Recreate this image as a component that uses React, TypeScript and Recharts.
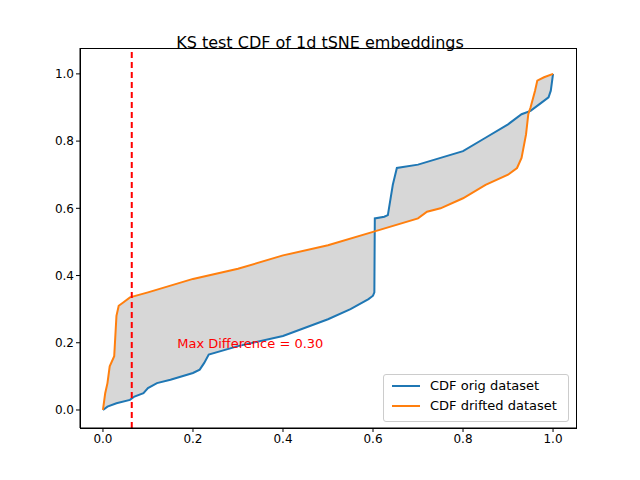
import { ComposedChart, Line, Area, XAxis, YAxis, ReferenceLine, ReferenceDot } from 'recharts';

const origX = [0, 0.01, 0.03, 0.06, 0.07, 0.09, 0.1, 0.12, 0.15, 0.2, 0.215, 0.225, 0.235, 0.3, 0.4, 0.5, 0.55, 0.59, 0.6, 0.603, 0.604, 0.625, 0.633, 0.644, 0.653, 0.7, 0.75, 0.8, 0.85, 0.9, 0.93, 0.95, 0.97, 0.99, 0.995, 1.0];
const origY = [0, 0.01, 0.02, 0.03, 0.04, 0.05, 0.065, 0.08, 0.09, 0.11, 0.12, 0.14, 0.165, 0.19, 0.22, 0.27, 0.3, 0.33, 0.34, 0.35, 0.57, 0.575, 0.58, 0.67, 0.72, 0.73, 0.75, 0.77, 0.81, 0.85, 0.88, 0.89, 0.91, 0.93, 0.95, 1.0];
const driftX = [0, 0.005, 0.01, 0.015, 0.025, 0.03, 0.035, 0.045, 0.06, 0.1, 0.2, 0.3, 0.4, 0.5, 0.6, 0.7, 0.72, 0.75, 0.8, 0.85, 0.9, 0.92, 0.93, 0.94, 0.945, 0.95, 0.96, 0.965, 0.98, 1.0];
const driftY = [0, 0.05, 0.08, 0.13, 0.16, 0.28, 0.31, 0.32, 0.335, 0.35, 0.39, 0.42, 0.46, 0.49, 0.53, 0.57, 0.59, 0.6, 0.63, 0.67, 0.7, 0.72, 0.75, 0.82, 0.88, 0.9, 0.95, 0.98, 0.99, 1.0];
const ticks = [0, 0.2, 0.4, 0.6, 0.8, 1.0];
const maxDiffX = 0.064;

const orig = origX.map((x, i) => ({ x, y: origY[i] }));
const drift = driftX.map((x, i) => ({ x, y: driftY[i] }));

function at(xs: number[], ys: number[], x: number) {
  for (let i = 1; i < xs.length; i++) {
    if (x <= xs[i]) {
      const t = xs[i] === xs[i - 1] ? 1 : (x - xs[i - 1]) / (xs[i] - xs[i - 1]);
      return ys[i - 1] + t * (ys[i] - ys[i - 1]);
    }
  }
  return ys[ys.length - 1];
}
const allX = Array.from(new Set([...origX, ...driftX])).sort((a, b) => a - b);
const band = allX.map((x) => {
  const a = at(origX, origY, x);
  const b = at(driftX, driftY, x);
  return { x, r: [Math.min(a, b), Math.max(a, b)] };
});

const font = 'DejaVu Sans, sans-serif';
const fmt = (v: number) => v.toFixed(1);

export default function App() {
  return (
    <div style={{ position: 'absolute', left: 0, top: 0, width: 640, height: 480, background: '#fff', fontFamily: font }}>
      <div style={{ position: 'absolute', top: 33, width: 640, textAlign: 'center', fontSize: 16 }}>
        KS test CDF of 1d tSNE embeddings
      </div>
      <ComposedChart width={640} height={480} margin={{ top: 48, right: 64, bottom: 0, left: 0 }}>
        <XAxis type="number" dataKey="x" domain={[-0.051, 1.051]} ticks={ticks} tickFormatter={fmt}
          height={52} allowDuplicatedCategory={false}
          tick={{ fill: '#000', fontSize: 12, fontFamily: font }} stroke="#000" tickSize={4} />
        <YAxis type="number" domain={[-0.0536, 1.077]} ticks={ticks} tickFormatter={fmt} width={80}
          tick={{ fill: '#000', fontSize: 12, fontFamily: font }} stroke="#000" tickSize={4} />
        <Area data={band} dataKey="r" type="linear" fill="#d3d3d3" fillOpacity={0.9} stroke="none" isAnimationActive={false} />
        <Line data={orig} dataKey="y" type="linear" stroke="#1f77b4" strokeWidth={2} dot={false} isAnimationActive={false} />
        <Line data={drift} dataKey="y" type="linear" stroke="#ff7f0e" strokeWidth={2} dot={false} isAnimationActive={false} />
        <ReferenceLine x={maxDiffX} stroke="#ff0000" strokeWidth={2} strokeDasharray="6 4" />
        <ReferenceDot x={0.165} y={0.2} r={0} stroke="none"
          label={(p: any) => (
            <text x={p.viewBox.x} y={p.viewBox.y + 5} fill="#ff0000" fontSize={13} fontFamily={font}>Max Difference = 0.30</text>
          )} />
      </ComposedChart>
      <div style={{ position: 'absolute', left: 80, top: 48, width: 495, height: 379, border: '1px solid #000', pointerEvents: 'none' }} />
      <div style={{ position: 'absolute', left: 383, top: 374, width: 184, height: 46, border: '1px solid #ccc', borderRadius: 3, background: 'rgba(255,255,255,0.8)', fontSize: 13 }}>
        {[['CDF orig dataset', '#1f77b4'], ['CDF drifted dataset', '#ff7f0e']].map(([t, c], i) => (
          <div key={t} style={{ position: 'absolute', left: 8, top: 3 + i * 20, display: 'flex', alignItems: 'center' }}>
            <span style={{ display: 'inline-block', width: 28, height: 2, background: c, marginRight: 10 }} />
            {t}
          </div>
        ))}
      </div>
    </div>
  );
}
